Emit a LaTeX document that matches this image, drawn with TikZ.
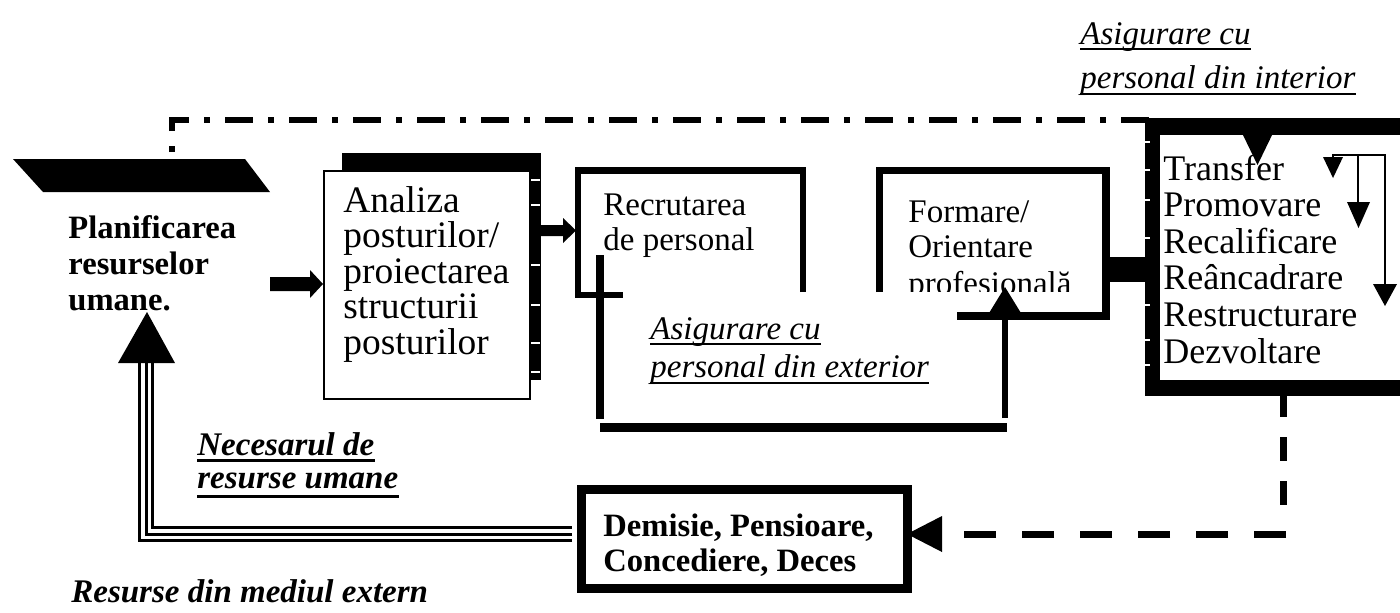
\documentclass[tikz,border=0pt]{standalone}
\usepackage{fontspec}
\setmainfont{Liberation Serif}
\begin{document}
\begin{tikzpicture}[x=0.5pt,y=-0.5pt,
  txt/.style={inner sep=0pt, anchor=base west, font=\fontsize{16.5}{18}\selectfont},
  bigtxt/.style={txt, font=\fontsize{18}{20}\selectfont},
  boldtxt/.style={txt, font=\fontsize{16.3}{18}\selectfont\bfseries},
  bitxt/.style={txt, font=\fontsize{16.5}{18}\selectfont\bfseries\itshape},
  ittxt/.style={txt, font=\fontsize{16.5}{18}\selectfont\itshape},
  uline/.style={line width=1pt},
  thickline/.style={line width=3.4pt},
  dashdot/.style={line width=3pt, dash pattern=on 3pt off 7.5pt on 14pt off 7.5pt},
  bigdash/.style={line width=3.5pt},
  notch/.style={white, line width=1pt}
]
\clip (0,0) rectangle (1400,612);
\fill[white] (0,0) rectangle (1400,612);

% ---- planning block (black slab and bold title)
\fill (13,159) -- (245,159) -- (270,192) -- (43,192) -- cycle;
\node[boldtxt] (pl1) at (68,238) {Planificarea};
\node[boldtxt] (pl2) at (68,274) {resurselor};
\node[boldtxt] (pl3) at (68,310) {umane.};

% ---- job analysis box with heavy shadow
\fill (342,153) rectangle (541,171);
\fill (528,153) rectangle (541,380);
\foreach \yy in {180,205,265,305,343,372} \draw[notch] (531,\yy) -- (540,\yy);
\node[draw, fill=white, line width=0.8pt, minimum width=103pt, minimum height=114pt,
      inner sep=0pt, anchor=north west] (an) at (323,170) {};
\foreach \t [count=\i] in {Analiza, posturilor/, proiectarea, structurii, posturilor}
  \node[txt, font=\fontsize{18.7}{20}\selectfont, name=an\i] at (343,{212+35.5*(\i-1)}) {\t};

% arrow planning -> analysis
\fill (270,277) -- (310,277) -- (310,270) -- (323,284) -- (310,298) -- (310,291) -- (270,291) -- cycle;

% arrow analysis -> recruitment
\fill (533,225) -- (563,225) -- (563,218) -- (576,230.5) -- (563,243) -- (563,236) -- (533,236) -- cycle;

% ---- recruitment box (open outline)
\draw[thickline, miter limit=4] (803,292) -- (803,170.5) -- (578,170.5) -- (578,295) -- (623,295);
\node[txt] (re1) at (603,215) {Recrutarea};
\node[txt] (re2) at (603,250) {de personal};

% external staffing loop
\draw[line width=4pt] (600,255) -- (600,419);
\draw[line width=4.5pt] (600,427.5) -- (1007,427.5);
\draw[line width=3pt] (1005,418) -- (1005,316);
\node[ittxt] (ex1) at (650,339) {Asigurare cu};
\node[ittxt] (ex2) at (650,377) {personal din exterior};
\draw[uline] ([yshift=-2.5pt]ex1.base west) -- ([yshift=-2.5pt]ex1.base east);
\draw[uline] ([yshift=-3pt]ex2.base west) -- ([yshift=-3pt]ex2.base east);

% ---- training box (open outline)
\draw[line width=3.6pt] (879.5,292) -- (879.5,170.5) -- (1106,170.5) -- (1106,316) -- (957,316);
\node[txt] (fo1) at (908,222) {Formare/};
\node[txt] (fo2) at (908,257) {Orientare};
\begin{scope}
  \clip (885,150) rectangle (1100,291);
  \node[txt] (fo3) at (908,294) {profesională};
\end{scope}
\fill (986,318) -- (1024,318) -- (1005,287) -- cycle;

% connector training -> internal moves
\fill (1109,257) rectangle (1152,282);

% ---- internal moves box
\fill (1145,118) rectangle (1420,396);
\fill[white] (1160,135) rectangle (1420,380);
\foreach \yy in {142,170,200,238,305,340,365} \draw[notch] (1145,\yy) -- (1150,\yy);
\foreach \t [count=\i] in {Transfer, Promovare, Recalificare, Reâncadrare, Restructurare, Dezvoltare}
  \node[bigtxt, name=in\i] at (1163,{180+36.6*(\i-1)}) {\t};

% small branching arrows inside the list
\draw[line width=1pt] (1333,162) -- (1333,155) -- (1385,155) -- (1385,290);
\draw[line width=1pt] (1358,155) -- (1358,205);
\fill (1323,157) -- (1343,157) -- (1333,178) -- cycle;
\fill (1347,202) -- (1370,202) -- (1358.5,228) -- cycle;
\fill (1373,284) -- (1397,284) -- (1385,306) -- cycle;

% ---- internal staffing feedback (dash-dot)
\draw[dashdot] (172,152) -- (172,120) -- (1150,120);
\fill (1242,133) -- (1273,133) -- (1257.5,165) -- cycle;
\node[ittxt] (int1) at (1080,44) {Asigurare cu};
\node[ittxt] (int2) at (1080,88) {personal din interior};
\draw[uline] ([yshift=-2.5pt]int1.base west) -- ([yshift=-2.5pt]int1.base east);
\draw[uline] ([yshift=-3pt]int2.base west) -- ([yshift=-3pt]int2.base east);

% ---- exits box
\node[draw, line width=4.5pt, minimum width=163pt, minimum height=49.5pt,
      inner sep=0pt, anchor=north west] (ex) at (576.5,484.5) {};
\node[boldtxt] (de1) at (603,536) {Demisie, Pensioare,};
\node[boldtxt] (de2) at (603,571) {Concediere, Deces};

% dashed link from internal moves to exits
\draw[bigdash, dash pattern=on 12pt off 10pt] (1283,393) -- (1283,507);
\draw[bigdash, dash pattern=on 16pt off 13pt] (1286,534) -- (944,534);
\fill (942,516) -- (942,552) -- (907,534) -- cycle;

% triple line back to planning
\draw[line width=8pt, miter limit=4] (572,534) -- (146,534) -- (146,363);
\draw[white, line width=4.8pt, miter limit=4] (572,534) -- (146,534) -- (146,362);
\draw[line width=1.5pt, miter limit=4] (572,534) -- (146,534) -- (146,362);
\fill (118,363) -- (175,363) -- (147,312) -- cycle;

\node[bitxt] (ne1) at (197,455) {Necesarul de};
\node[bitxt] (ne2) at (197,488) {resurse umane};
\draw[line width=1.5pt] ([yshift=-2.5pt]ne1.base west) -- ([yshift=-2.5pt]ne1.base east);
\draw[line width=1.5pt] ([yshift=-4pt]ne2.base west) -- ([yshift=-4pt]ne2.base east);

\node[bitxt] (rs) at (71,602) {Resurse din mediul extern};
\end{tikzpicture}
\end{document}
